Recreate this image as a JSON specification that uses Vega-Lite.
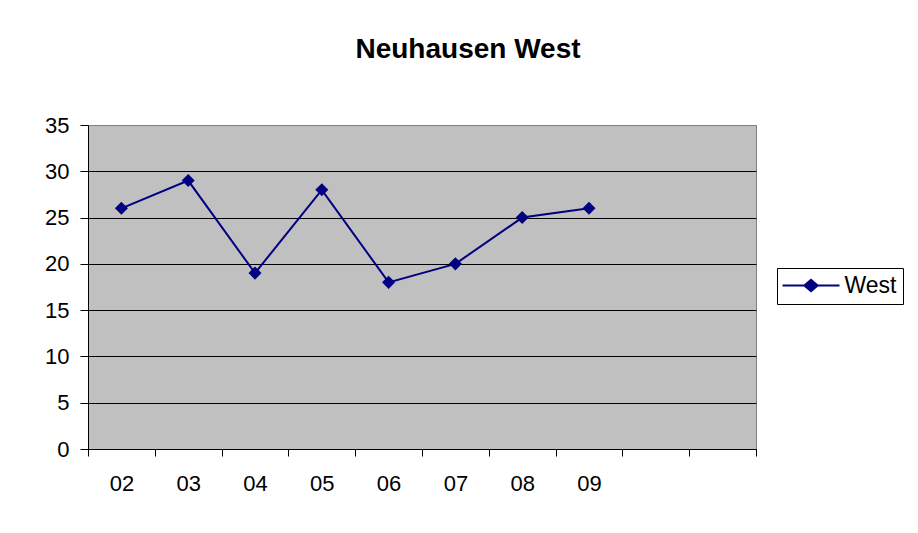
{
  "$schema": "https://vega.github.io/schema/vega-lite/v6.json",
  "width": 668,
  "height": 324,
  "autosize": "none",
  "padding": {"left": 88, "top": 125, "right": 162, "bottom": 84},
  "background": "white",
  "title": {
    "text": "Neuhausen West",
    "font": "Liberation Sans",
    "fontSize": 28,
    "fontWeight": "bold",
    "color": "black",
    "anchor": "middle",
    "dx": 46,
    "offset": 28,
    "baseline": "alphabetic"
  },
  "config": {
    "view": {"fill": "#C0C0C0", "stroke": "#808080", "strokeWidth": 1},
    "font": "Liberation Sans"
  },
  "data": {
    "values": [
      {"year": "02", "value": 26, "series": "West"},
      {"year": "03", "value": 29, "series": "West"},
      {"year": "04", "value": 19, "series": "West"},
      {"year": "05", "value": 28, "series": "West"},
      {"year": "06", "value": 18, "series": "West"},
      {"year": "07", "value": 20, "series": "West"},
      {"year": "08", "value": 25, "series": "West"},
      {"year": "09", "value": 26, "series": "West"}
    ]
  },
  "encoding": {
    "x": {
      "field": "year",
      "type": "ordinal",
      "bandPosition": 0.5,
      "scale": {
        "type": "band",
        "domain": ["02", "03", "04", "05", "06", "07", "08", "09", "10", "11"],
        "paddingInner": 0,
        "paddingOuter": 0
      },
      "axis": {
        "title": null,
        "grid": false,
        "domainColor": "black",
        "domainWidth": 1,
        "tickColor": "black",
        "tickSize": 7,
        "tickBand": "extent",
        "labelAngle": 0,
        "labelFont": "Liberation Sans",
        "labelFontSize": 22,
        "labelColor": "black",
        "labelPadding": 17,
        "labelExpr": "indexof(['10','11'], datum.label) >= 0 ? '' : datum.label"
      }
    },
    "y": {
      "field": "value",
      "type": "quantitative",
      "scale": {"domain": [0, 35], "nice": false},
      "axis": {
        "title": null,
        "values": [0, 5, 10, 15, 20, 25, 30, 35],
        "grid": true,
        "gridColor": {"condition": {"test": "datum.value == 35", "value": "#808080"}, "value": "black"},
        "gridWidth": 1,
        "domainColor": "black",
        "tickColor": "black",
        "tickSize": 8,
        "labelFont": "Liberation Sans",
        "labelFontSize": 22,
        "labelColor": "black",
        "labelPadding": 11
      }
    },
    "color": {
      "field": "series",
      "type": "nominal",
      "scale": {"domain": ["West"], "range": ["#000080"]},
      "legend": {
        "title": null,
        "orient": "none",
        "legendX": 689,
        "legendY": 143,
        "strokeColor": "black",
        "fillColor": "white",
        "padding": 6,
        "labelFont": "Liberation Sans",
        "labelFontSize": 23,
        "labelColor": "black",
        "labelOffset": 22,
        "symbolOffset": 16.5,
        "symbolType": "M-4.07,-0.14L-1,-0.14L0,-1L1,-0.14L4.07,-0.14L4.07,0.14L1,0.14L0,1L-1,0.14L-4.07,0.14Z",
        "symbolSize": 196,
        "symbolStrokeWidth": 0,
        "symbolFillColor": "#000080",
        "encode": {
          "symbols": {"update": {"fill": {"value": "#000080"}, "stroke": {"value": "#000080"}, "strokeWidth": {"value": 0}, "opacity": {"value": 1}}}
        }
      }
    }
  },
  "layer": [
    {"mark": {"type": "line", "strokeWidth": 2}},
    {"mark": {"type": "point", "shape": "diamond", "filled": true, "size": 170, "opacity": 1}}
  ]
}
